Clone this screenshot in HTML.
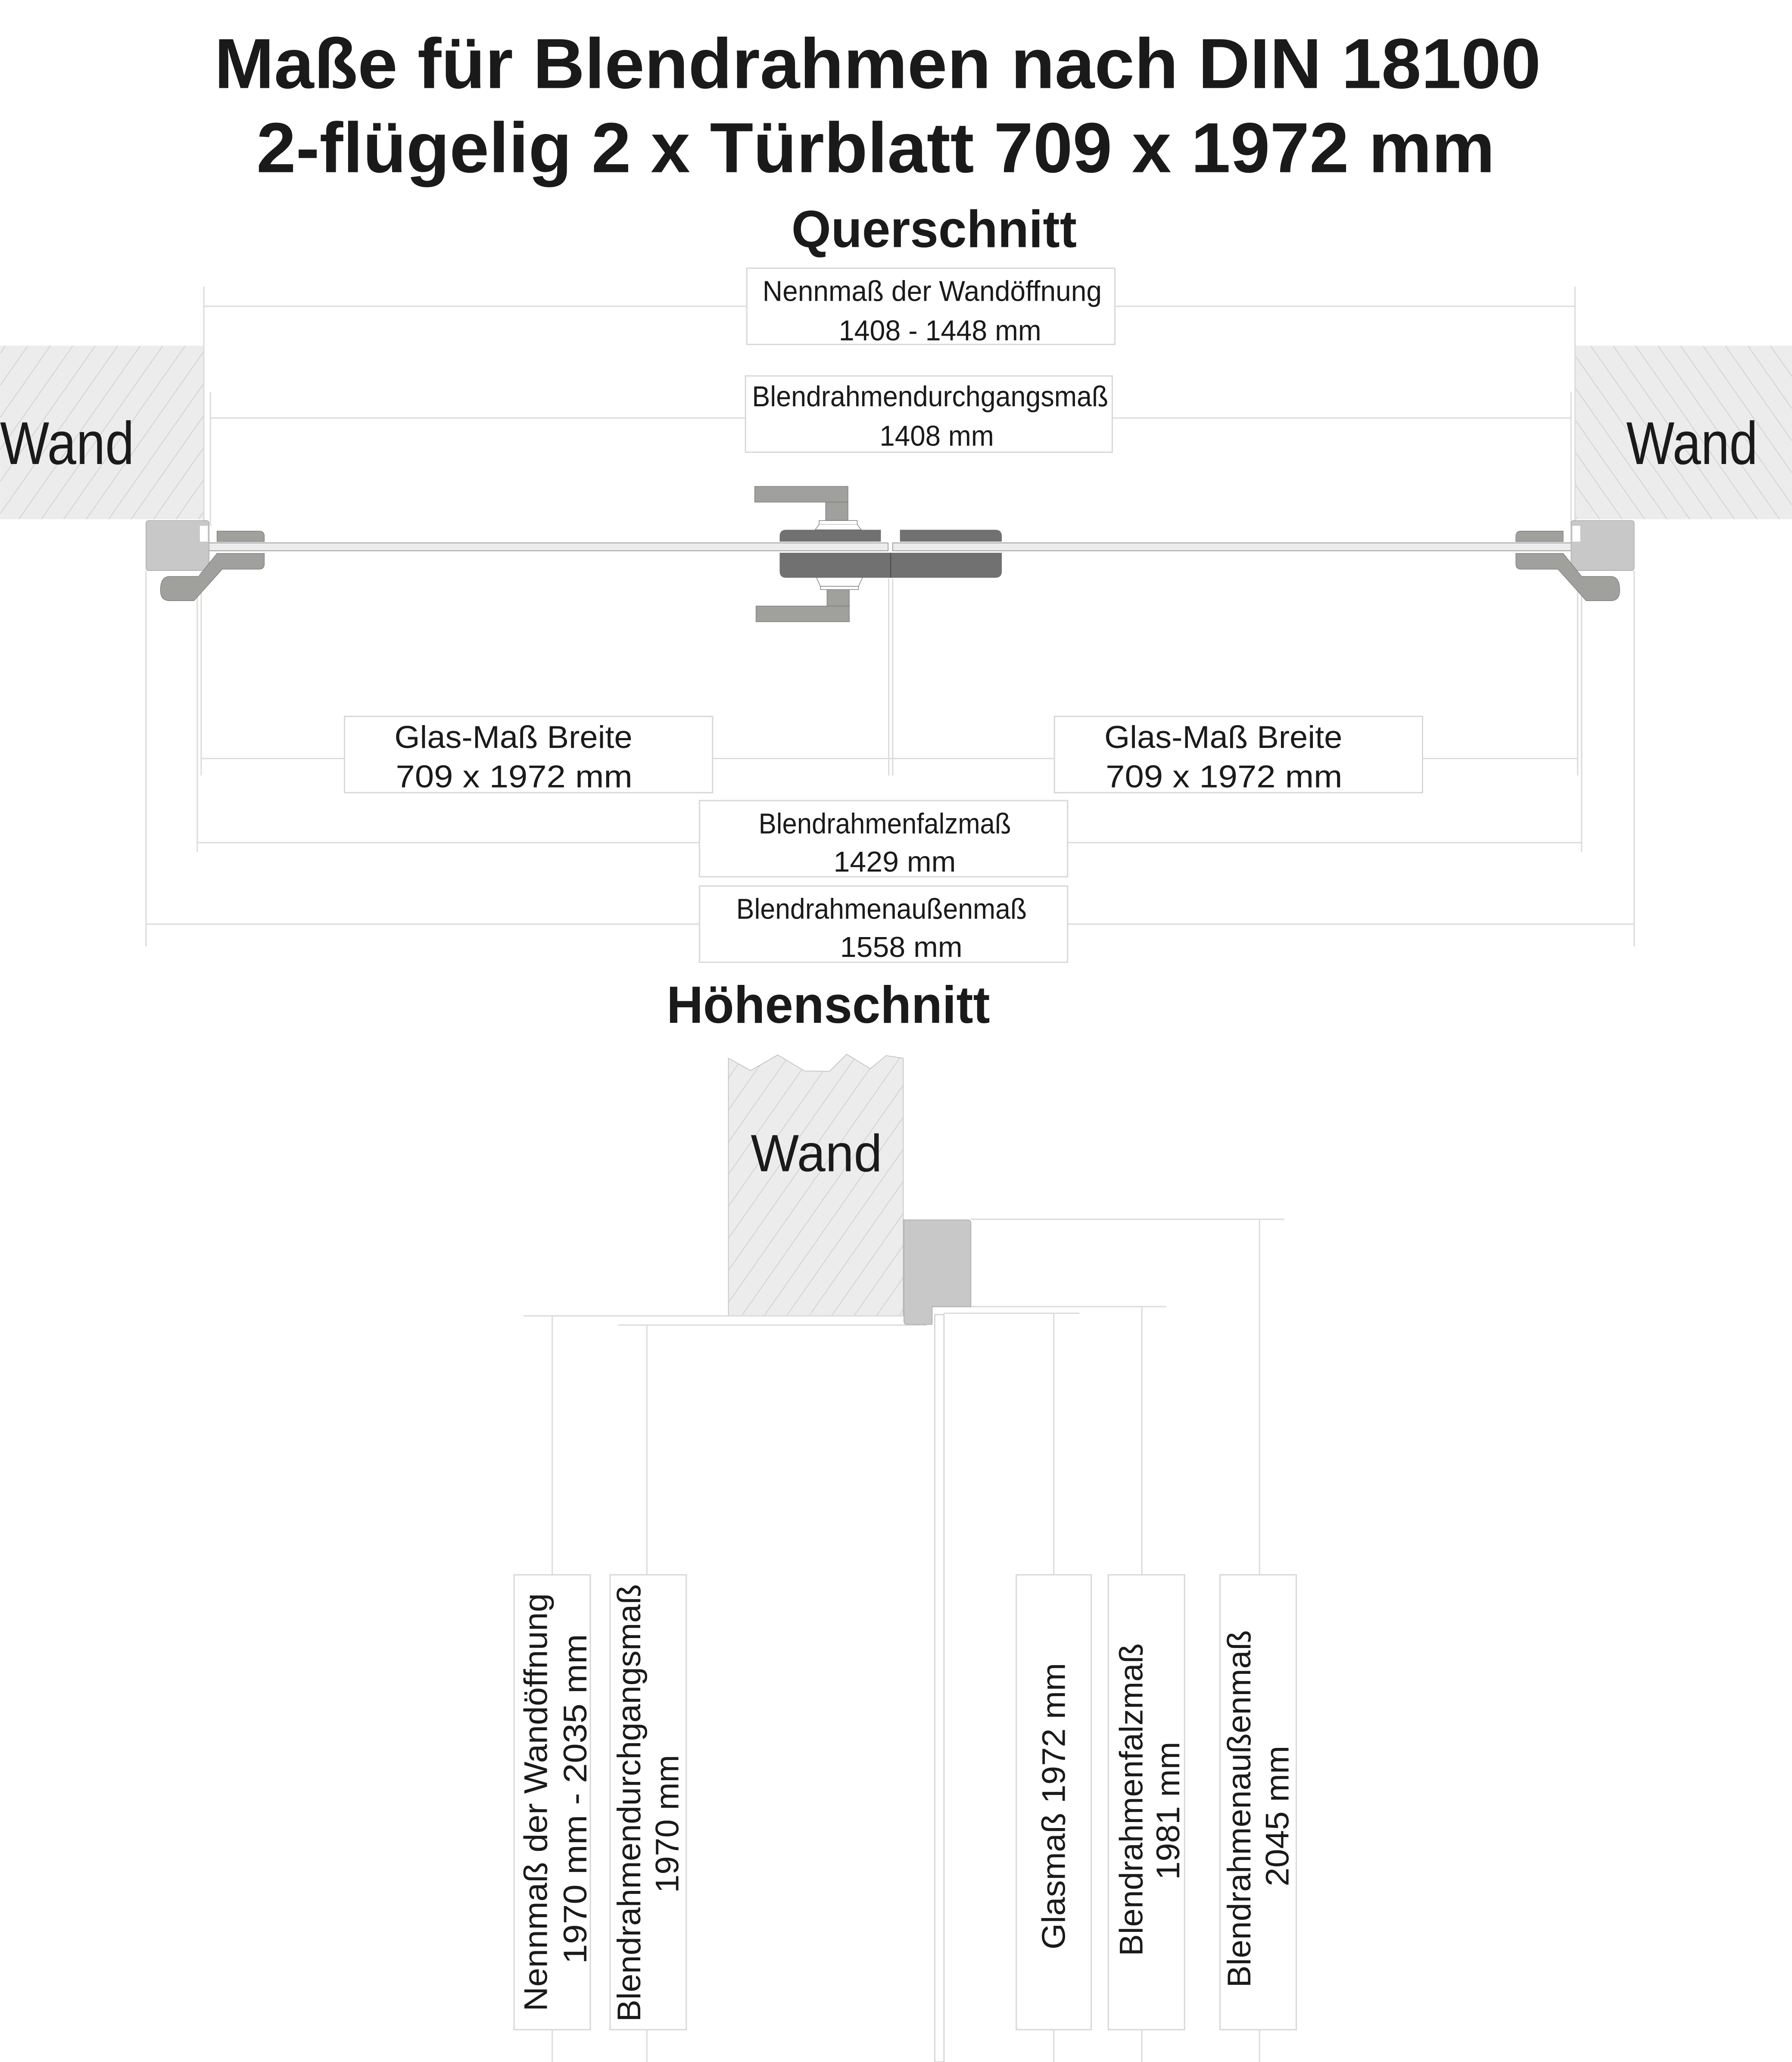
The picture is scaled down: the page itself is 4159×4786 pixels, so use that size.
<!DOCTYPE html>
<html><head><meta charset="utf-8"><style>
html,body{margin:0;padding:0;background:#fff}
svg{display:block}
text{font-family:"Liberation Sans",sans-serif;fill:#1a1a1a}
.t{font-weight:bold}
.l{font-size:22px}
.box{fill:#fff;stroke:#d8d8d8;stroke-width:1}
.dl{stroke:#dcdcdc;stroke-width:1;fill:none}
</style></head><body>
<svg width="4159" height="4786" viewBox="0 0 1363 1568.6" xmlns="http://www.w3.org/2000/svg">
<defs>
<pattern id="h1" patternUnits="userSpaceOnUse" width="14" height="14" patternTransform="rotate(35)">
<rect width="14" height="14" fill="#ececec"/><line x1="0" y1="0" x2="0" y2="14" stroke="#c4c4c4" stroke-width="0.8"/></pattern>
<pattern id="h2" patternUnits="userSpaceOnUse" width="14" height="14" patternTransform="rotate(-35)">
<rect width="14" height="14" fill="#ececec"/><line x1="0" y1="0" x2="0" y2="14" stroke="#c4c4c4" stroke-width="0.8"/></pattern>
</defs>

<!-- titles -->
<text class="t" x="163" y="67" font-size="54" textLength="1009" lengthAdjust="spacingAndGlyphs">Maße für Blendrahmen nach DIN 18100</text>
<text class="t" x="195" y="131" font-size="54" textLength="942" lengthAdjust="spacingAndGlyphs">2-flügelig 2 x Türblatt 709 x 1972 mm</text>
<text class="t" x="602" y="188" font-size="40" textLength="217" lengthAdjust="spacingAndGlyphs">Querschnitt</text>
<text class="t" x="507" y="778" font-size="40" textLength="246" lengthAdjust="spacingAndGlyphs">Höhenschnitt</text>

<!-- walls top -->
<rect x="0" y="263" width="155" height="132" fill="url(#h1)"/>
<rect x="1198" y="263" width="165" height="132" fill="url(#h2)"/>
<text x="0" y="353" font-size="46" textLength="102" lengthAdjust="spacingAndGlyphs">Wand</text>
<text x="1237" y="353" font-size="46" textLength="100" lengthAdjust="spacingAndGlyphs">Wand</text>

<!-- top dimension lines -->
<line class="dl" x1="155" y1="218" x2="155" y2="400"/>
<line class="dl" x1="1198" y1="218" x2="1198" y2="400"/>
<line class="dl" x1="155" y1="233" x2="1198" y2="233"/>
<line class="dl" x1="160" y1="298" x2="160" y2="400"/>
<line class="dl" x1="1195" y1="298" x2="1195" y2="400"/>
<line class="dl" x1="160" y1="318" x2="1195" y2="318"/>
<rect class="box" x="568" y="204" width="280" height="58"/>
<text class="l" x="580" y="229" textLength="258" lengthAdjust="spacingAndGlyphs">Nennmaß der Wandöffnung</text>
<text class="l" x="638" y="259" textLength="154" lengthAdjust="spacingAndGlyphs">1408 - 1448 mm</text>
<rect class="box" x="567" y="286" width="279" height="58"/>
<text class="l" x="572" y="309" textLength="271" lengthAdjust="spacingAndGlyphs">Blendrahmendurchgangsmaß</text>
<text class="l" x="669" y="339" textLength="87" lengthAdjust="spacingAndGlyphs">1408 mm</text>

<!-- lower dimension lines -->
<line class="dl" x1="153" y1="435" x2="153" y2="590"/>
<line class="dl" x1="1200" y1="435" x2="1200" y2="590"/>
<line class="dl" x1="676" y1="440" x2="676" y2="590"/>
<line class="dl" x1="679" y1="440" x2="679" y2="590"/>
<line class="dl" x1="153" y1="577" x2="1200" y2="577"/>
<line class="dl" x1="150" y1="440" x2="150" y2="648"/>
<line class="dl" x1="1203" y1="440" x2="1203" y2="648"/>
<line class="dl" x1="150" y1="641" x2="1203" y2="641"/>
<line class="dl" x1="111" y1="434" x2="111" y2="720"/>
<line class="dl" x1="1243" y1="434" x2="1243" y2="720"/>
<line class="dl" x1="111" y1="703" x2="1243" y2="703"/>
<rect class="box" x="262" y="545" width="280" height="58"/>
<text x="300" y="569" font-size="24" textLength="181" lengthAdjust="spacingAndGlyphs">Glas-Maß Breite</text>
<text x="301" y="599" font-size="24" textLength="180" lengthAdjust="spacingAndGlyphs">709 x 1972 mm</text>
<rect class="box" x="802" y="545" width="280" height="58"/>
<text x="840" y="569" font-size="24" textLength="181" lengthAdjust="spacingAndGlyphs">Glas-Maß Breite</text>
<text x="841" y="599" font-size="24" textLength="180" lengthAdjust="spacingAndGlyphs">709 x 1972 mm</text>
<rect class="box" x="532" y="609" width="280" height="58"/>
<text class="l" x="577" y="634" textLength="192" lengthAdjust="spacingAndGlyphs">Blendrahmenfalzmaß</text>
<text class="l" x="634" y="663" textLength="93" lengthAdjust="spacingAndGlyphs">1429  mm</text>
<rect class="box" x="532" y="674" width="280" height="58"/>
<text class="l" x="560" y="699" textLength="221" lengthAdjust="spacingAndGlyphs">Blendrahmenaußenmaß</text>
<text class="l" x="639" y="728" textLength="93" lengthAdjust="spacingAndGlyphs">1558  mm</text>

<!-- glass -->
<rect x="153" y="413" width="522.5" height="6" fill="#ececec" stroke="#888" stroke-width="0.5"/>
<rect x="679" y="413" width="522" height="6" fill="#ececec" stroke="#888" stroke-width="0.5"/>

<!-- left frame + bands -->
<g id="side">
<rect x="111" y="396" width="48" height="38" rx="2" fill="#c8c8c8" stroke="#aaa" stroke-width="0.5"/>
<rect x="152" y="400" width="6" height="12" fill="#fff"/>
<path d="M165 404 H197 Q201 404 201 408 V412 H165 Z" fill="#a0a09c" stroke="#777" stroke-width="0.4"/>
<path d="M165 421 H201 V429 Q201 433 197 433 H169 L147.5 457 H129 Q122 457 122 449 Q122 438.5 129 438.5 H151 Z" fill="#a0a09c" stroke="#777" stroke-width="0.4"/>
</g>
<use href="#side" transform="matrix(-1 0 0 1 1354 0)"/>

<!-- center handle -->
<rect x="574" y="370" width="71" height="12" fill="#a0a09c" stroke="#777" stroke-width="0.4"/>
<rect x="628" y="382" width="17" height="14" fill="#a0a09c" stroke="#777" stroke-width="0.4"/>
<rect x="623" y="396" width="29" height="3" fill="#fff" stroke="#666" stroke-width="0.4"/>
<path d="M623 399 L620 403 H655 L652 399" fill="#fff" stroke="#666" stroke-width="0.4"/>
<path d="M598 403 H670 V412 H593 V408 Q593 403 598 403 Z" fill="#717171"/>
<path d="M684.5 403 H757 Q762 403 762 408 V412 H684.5 Z" fill="#717171"/>
<path d="M593 420.5 H762 V434.5 Q762 439.5 757 439.5 H598 Q593 439.5 593 434.5 Z" fill="#717171"/>
<line x1="677.5" y1="420.5" x2="677.5" y2="439.5" stroke="#444" stroke-width="0.6"/>
<path d="M621 439.5 L624 446 H653 L656 439.5" fill="#fff" stroke="#666" stroke-width="0.4"/>
<rect x="624" y="446" width="29" height="2.5" fill="#fff" stroke="#666" stroke-width="0.4"/>
<rect x="629" y="448.5" width="17" height="12.5" fill="#a0a09c" stroke="#777" stroke-width="0.4"/>
<rect x="575" y="461" width="71" height="12" fill="#a0a09c" stroke="#777" stroke-width="0.4"/>

<!-- Höhenschnitt -->
<path d="M554 805 L571 814.4 L591.5 802.5 L612 814.7 L631 815 L644 802 L662 813 L674 803 L687 805 V1001 H554 Z" fill="url(#h1)" stroke="#bbb" stroke-width="0.5"/>
<text x="571" y="891" font-size="40" textLength="100" lengthAdjust="spacingAndGlyphs">Wand</text>
<line class="dl" x1="398" y1="1001" x2="687" y2="1001"/>
<line class="dl" x1="470" y1="1008" x2="705" y2="1008"/>
<line class="dl" x1="738" y1="927.5" x2="977" y2="927.5"/>
<line class="dl" x1="705" y1="994" x2="887" y2="994"/>
<line class="dl" x1="718" y1="999" x2="821" y2="999"/>
<path d="M687.5 928 H736 Q738.5 928 738.5 931 V994 H709 V1007.5 H690 Q687.5 1007.5 687.5 1005 Z" fill="#c8c8c8" stroke="#aaa" stroke-width="0.5"/>
<rect x="711" y="1000" width="7" height="568.6" fill="#fff" stroke="#cfcfcf" stroke-width="0.8"/>
<line class="dl" x1="420" y1="1001" x2="420" y2="1568.6"/>
<line class="dl" x1="492" y1="1008" x2="492" y2="1568.6"/>
<line class="dl" x1="801.5" y1="999" x2="801.5" y2="1568.6"/>
<line class="dl" x1="868.5" y1="994" x2="868.5" y2="1568.6"/>
<line class="dl" x1="958" y1="927.5" x2="958" y2="1568.6"/>

<rect class="box" x="391" y="1198" width="58" height="346"/>
<rect class="box" x="464" y="1198" width="58" height="346"/>
<rect class="box" x="773" y="1198" width="57" height="346"/>
<rect class="box" x="843" y="1198" width="58" height="346"/>
<rect class="box" x="928" y="1198" width="58" height="346"/>
<g font-size="25">
<text transform="translate(416 1530) rotate(-90)" textLength="318" lengthAdjust="spacingAndGlyphs">Nennmaß der Wandöffnung</text>
<text transform="translate(446 1494) rotate(-90)" textLength="251" lengthAdjust="spacingAndGlyphs">1970  mm - 2035 mm</text>
<text transform="translate(487 1538) rotate(-90)" textLength="333" lengthAdjust="spacingAndGlyphs">Blendrahmendurchgangsmaß</text>
<text transform="translate(516 1440) rotate(-90)" textLength="105" lengthAdjust="spacingAndGlyphs">1970 mm</text>
<text transform="translate(810 1483) rotate(-90)" textLength="218" lengthAdjust="spacingAndGlyphs">Glasmaß 1972 mm</text>
<text transform="translate(869 1488) rotate(-90)" textLength="238" lengthAdjust="spacingAndGlyphs">Blendrahmenfalzmaß</text>
<text transform="translate(897 1430) rotate(-90)" textLength="105" lengthAdjust="spacingAndGlyphs">1981 mm</text>
<text transform="translate(951 1512) rotate(-90)" textLength="272" lengthAdjust="spacingAndGlyphs">Blendrahmenaußenmaß</text>
<text transform="translate(980 1435) rotate(-90)" textLength="107" lengthAdjust="spacingAndGlyphs">2045 mm</text>
</g>
</svg>
</body></html>
